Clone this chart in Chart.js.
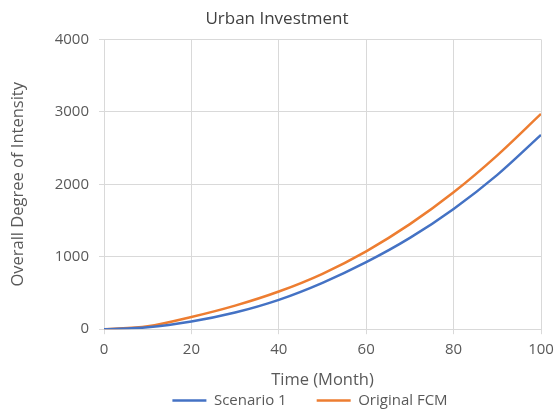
<!DOCTYPE html>
<html>
<head>
<meta charset="utf-8">
<script src="https://cdn.jsdelivr.net/npm/chart.js@4.4.0/dist/chart.umd.min.js"></script>
<style>
  html, body { margin: 0; padding: 0; background: #fff; }
  #wrap { width: 554px; height: 412px; }
</style>
</head>
<body>
<div id="wrap"><canvas id="lineChart" width="554" height="412"></canvas></div>
<script>
var months = [0, 10, 20, 30, 40, 50, 60, 70, 80, 90, 100];
var scenario1 = [0, 27, 106, 230, 405, 640, 925, 1260, 1660, 2130, 2682];
var originalFcm = [0, 40, 168, 325, 520, 765, 1075, 1450, 1890, 2400, 2972];

var textColor = '#595959';
var gridColor = '#d9d9d9';
var fontFamily = '"Open Sans", "Liberation Sans", sans-serif';

function toPoints(values) {
  var pts = [];
  for (var i = 0; i < months.length; i++) {
    pts.push({ x: months[i], y: values[i] });
  }
  return pts;
}

// wider gap between the two legend items, group centred under the plot
var legendGap = 30;
var legendCenter = 310;
var legendSpread = {
  id: 'legendSpread',
  beforeDraw: function(chart) {
    var legend = chart.legend;
    var opts = legend.options;
    var extra = legendGap - opts.labels.padding;
    var labels = Object.create(opts.labels, { padding: { value: legendGap } });
    legend._saved = {
      options: opts,
      top: legend.top,
      left: legend.left,
      right: legend.right,
      lineWidths: legend.lineWidths,
    };
    legend.options = Object.create(opts, { labels: { value: labels } });
    legend.top -= extra;
    legend.lineWidths = [legend.lineWidths[0] + 2 * extra];
    var shift = legendCenter - (legend.left + legend.right) / 2;
    legend.left += shift;
    legend.right += shift;
  },
  afterDraw: function(chart) {
    var legend = chart.legend;
    var s = legend._saved;
    if (s) {
      legend.options = s.options;
      legend.top = s.top;
      legend.left = s.left;
      legend.right = s.right;
      legend.lineWidths = s.lineWidths;
      legend._saved = null;
    }
  },
};

var ctx = document.getElementById('lineChart');
var lineChart = new Chart(ctx, {
  type: 'line',
  data: {
    datasets: [{
      label: 'Scenario 1',
      data: toPoints(scenario1),
      borderColor: '#4472C4',
      backgroundColor: '#4472C4',
      borderWidth: 2.5,
      pointRadius: 0,
      pointStyle: 'line',
      cubicInterpolationMode: 'monotone',
    }, {
      label: 'Original FCM',
      data: toPoints(originalFcm),
      borderColor: '#ED7D31',
      backgroundColor: '#ED7D31',
      borderWidth: 2.5,
      pointRadius: 0,
      pointStyle: 'line',
      cubicInterpolationMode: 'monotone',
    }],
  },
  options: {
    responsive: false,
    animation: false,
    layout: {
      padding: { left: 0, right: 0, top: 0, bottom: -6 },
    },
    plugins: {
      title: {
        display: true,
        text: 'Urban Investment',
        color: '#404040',
        font: { family: fontFamily, size: 17, weight: 'normal' },
        padding: { top: 9, bottom: 10 },
      },
      legend: {
        position: 'bottom',
        labels: {
          color: textColor,
          font: { family: fontFamily, size: 15 },
          usePointStyle: true,
          pointStyleWidth: 34,
          boxHeight: 8,
          padding: 3,
        },
      },
      tooltip: { enabled: false },
    },
    scales: {
      x: {
        type: 'linear',
        min: 0,
        max: 100,
        ticks: {
          stepSize: 20,
          color: textColor,
          font: { family: fontFamily, size: 15 },
          padding: 7,
          maxRotation: 0,
        },
        grid: { color: gridColor, tickLength: 5 },
        border: { color: gridColor },
        title: {
          display: true,
          text: 'Time (Month)',
          color: textColor,
          font: { family: fontFamily, size: 16.5 },
          padding: { top: 4, bottom: 0 },
        },
        afterFit: function(scale) {
          scale.paddingRight = 13;
        },
      },
      y: {
        min: 0,
        max: 4000,
        ticks: {
          stepSize: 1000,
          color: textColor,
          font: { family: fontFamily, size: 15 },
          padding: 10,
          callback: function(value) {
            return String(value);
          },
        },
        grid: { color: gridColor, tickLength: 5 },
        border: { color: gridColor },
        title: {
          display: true,
          text: 'Overall Degree of Intensity',
          color: textColor,
          font: { family: fontFamily, size: 16.5 },
          padding: { top: 8, bottom: 0 },
        },
        afterFit: function(scale) {
          scale.width = 104;
        },
      },
    },
  },
  plugins: [legendSpread],
});
</script>
</body>
</html>
